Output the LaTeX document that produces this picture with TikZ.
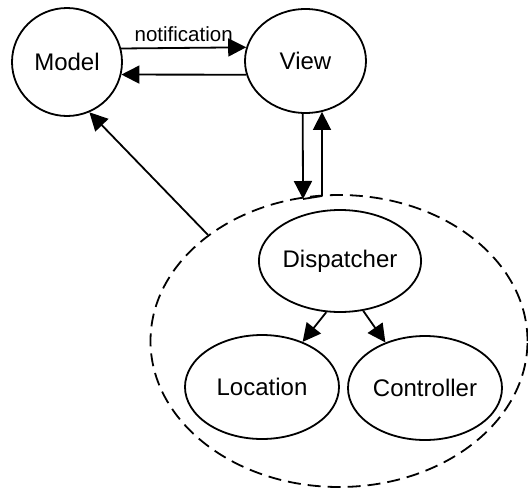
\documentclass[tikz,border=0pt]{standalone}
\usepackage{fontspec}
\setmainfont{Liberation Sans}
\usetikzlibrary{shapes.geometric,arrows.meta}
\begin{document}
\begin{tikzpicture}[x=1pt,y=-1pt,
  ell/.style={ellipse,draw,line width=1.8pt,inner sep=0pt,font=\fontsize{24}{28}\selectfont},
  arr/.style={line width=1.8pt,-{Triangle[length=18pt,width=18pt]}},
  plain/.style={line width=1.8pt}]
\useasboundingbox (0,0) rectangle (528,488);
\node[ell,minimum width=110pt,minimum height=108pt] (Model) at (67,62) {Model};
\node[ell,minimum width=121pt,minimum height=104pt] (View) at (305.5,61) {View};
\node[ellipse,draw,line width=1.8pt,dash pattern=on 13pt off 7pt,minimum width=377pt,minimum height=292pt,inner sep=0pt] (Big) at (339,341) {};
\node[ell,minimum width=156pt,minimum height=102pt] (Disp) at (340,261) {Dispatcher};
\node[ell,minimum width=154pt,minimum height=104pt] (Loc) at (262,387) {Location};
\node[ell,minimum width=154pt,minimum height=104pt] (Ctrl) at (425,388) {Controller};
\draw[arr] (Model.14) -- node[above=2pt,font=\fontsize{20.5}{24}\selectfont] {notification} (View.167);
\draw[arr] (View.193) -- (Model.347);
\coordinate (j1) at (303,199);
\coordinate (j2) at (322,196);
\draw[arr] (View.267) -- (j1);
\draw[plain] (j1) -- (j2);
\draw[arr] (j2) -- (j2 |- View.288);
\draw[arr] (Big.141) -- (Model.294);
\draw[arr] (Disp.255) -- (Loc.48);
\draw[arr] (Disp.295) -- (Ctrl.131);
\end{tikzpicture}
\end{document}
